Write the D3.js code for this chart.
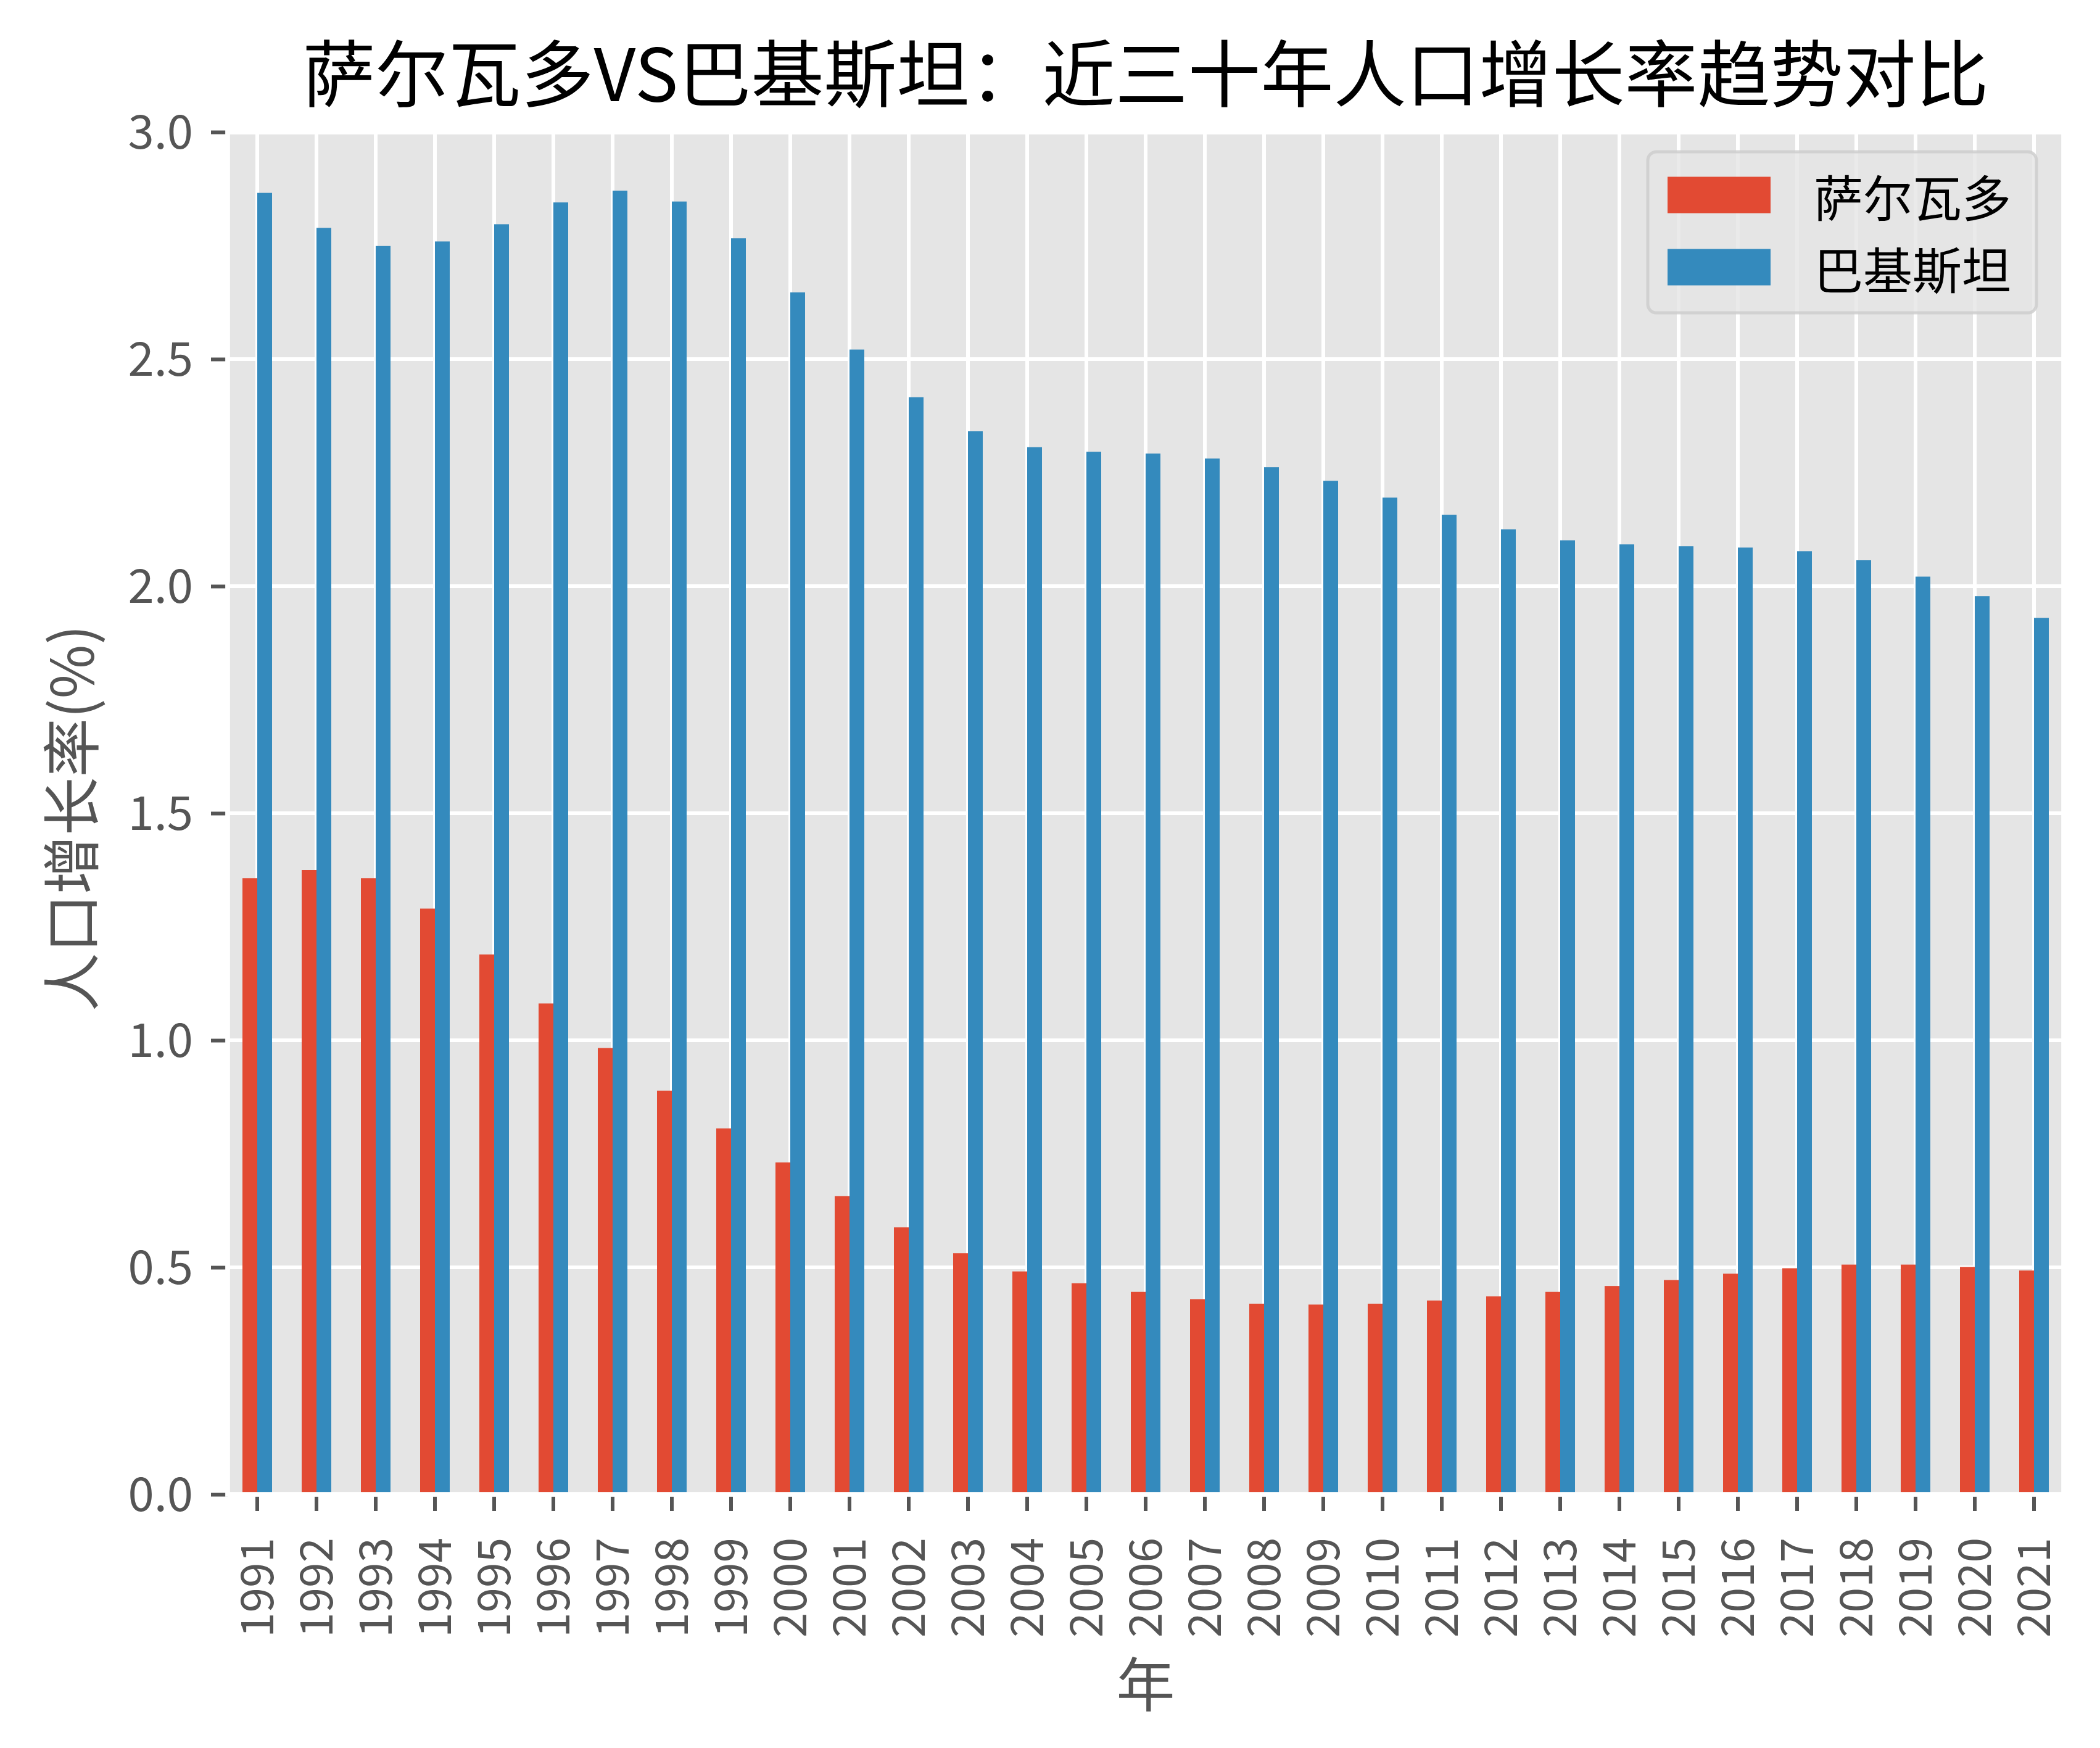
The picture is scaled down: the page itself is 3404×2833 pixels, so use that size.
<!DOCTYPE html>
<html><head><meta charset="utf-8">
<script src="https://cdn.jsdelivr.net/npm/d3@7"></script>
<style>
body{margin:0;background:#fff;}
svg text{font-family:"Noto Sans CJK SC","Noto Sans",sans-serif;}
</style>
</head><body>
<svg id="chart" width="3404" height="2833"></svg>
<script>
const years = ["1991","1992","1993","1994","1995","1996","1997","1998","1999","2000",
  "2001","2002","2003","2004","2005","2006","2007","2008","2009","2010",
  "2011","2012","2013","2014","2015","2016","2017","2018","2019","2020","2021"];
const seriesNames = ["萨尔瓦多", "巴基斯坦"];
const elSalvador = [1.357,1.375,1.357,1.290,1.189,1.081,0.983,0.889,0.806,0.731,
  0.657,0.588,0.531,0.491,0.465,0.446,0.430,0.420,0.418,0.420,
  0.427,0.436,0.446,0.459,0.472,0.486,0.498,0.506,0.506,0.501,0.493];
const pakistan = [2.866,2.789,2.749,2.759,2.797,2.845,2.871,2.847,2.766,2.647,
  2.521,2.416,2.341,2.306,2.296,2.292,2.281,2.262,2.232,2.195,
  2.157,2.125,2.101,2.092,2.088,2.085,2.077,2.057,2.021,1.978,1.930];
const yTicks = [0, 0.5, 1.0, 1.5, 2.0, 2.5, 3.0];
const titleText = "萨尔瓦多VS巴基斯坦：近三十年人口增长率趋势对比";
const xLabelText = "年";
const yLabelText = "人口增长率(%)";
const colors = ["#E24A33", "#348ABD"];

const series = [elSalvador, pakistan];
const svg = d3.select("#chart");
const L = 369, R = 3345, T = 214, B = 2422;

const x = d3.scaleBand().domain(years).range([L, R]).paddingInner(0).paddingOuter(0);
const y = d3.scaleLinear().domain([0, 3.0]).range([B, T]);
const step = x.step();
const barW = step * 0.25;

// background
svg.append("rect").attr("x", L).attr("y", T).attr("width", R - L).attr("height", B - T).attr("fill", "#E5E5E5");

// gridlines
const grid = svg.append("g");
grid.selectAll("line.h").data(yTicks).join("line")
  .attr("x1", L).attr("x2", R).attr("y1", d => y(d)).attr("y2", d => y(d))
  .attr("stroke", "#fff").attr("stroke-width", 6);
grid.selectAll("line.v").data(years).join("line")
  .attr("x1", d => x(d) + step / 2).attr("x2", d => x(d) + step / 2)
  .attr("y1", T).attr("y2", B)
  .attr("stroke", "#fff").attr("stroke-width", 6);

// bars
series.forEach((vals, si) => {
  svg.append("g").selectAll("rect").data(vals).join("rect")
    .attr("x", (d, i) => x(years[i]) + step / 2 - barW + si * barW)
    .attr("width", barW)
    .attr("y", d => y(d))
    .attr("height", d => y(0) - y(d))
    .attr("fill", colors[si]);
});

// axes
const yAxis = svg.append("g").attr("transform", `translate(${L},0)`)
  .call(d3.axisLeft(y).tickValues(yTicks).tickFormat(d3.format(".1f")).tickSize(27).tickPadding(29));
yAxis.select(".domain").remove();
yAxis.selectAll("line").attr("stroke", "#555555").attr("stroke-width", 6);
yAxis.selectAll("text").attr("fill", "#555555").attr("font-size", 76)
  .attr("font-family", "Noto Sans CJK SC").attr("dy", "0.35em");

const xAxis = svg.append("g").attr("transform", `translate(0,${B})`)
  .call(d3.axisBottom(x).tickSize(27));
xAxis.select(".domain").remove();
xAxis.selectAll("line").attr("stroke", "#555555").attr("stroke-width", 6);
xAxis.selectAll("text").attr("fill", "#555555").attr("font-size", 73)
  .attr("font-family", "Noto Sans CJK SC")
  .attr("transform", "rotate(-90)").attr("x", -70).attr("y", 0).attr("dy", "0.36em")
  .attr("text-anchor", "end");

// white axes edge
svg.append("rect").attr("x", L).attr("y", T).attr("width", R - L).attr("height", B - T)
  .attr("fill", "none").attr("stroke", "#fff").attr("stroke-width", 7.7);

// title
svg.append("text").attr("x", (L + R) / 2).attr("y", 112).attr("text-anchor", "middle")
  .attr("dominant-baseline", "central").attr("font-size", 118).attr("fill", "#000")
  .text(titleText);

// axis labels
svg.append("text").attr("x", (L + R) / 2).attr("y", 2724).attr("text-anchor", "middle")
  .attr("dominant-baseline", "central").attr("font-size", 95).attr("fill", "#555555")
  .text(xLabelText);
svg.append("text").attr("transform", `translate(110,${(T + B) / 2 + 8}) rotate(-90)`)
  .attr("text-anchor", "middle").attr("dominant-baseline", "central")
  .attr("font-size", 95).attr("fill", "#555555").text(yLabelText);

// legend
const lg = svg.append("g");
lg.append("rect").attr("x", 2671).attr("y", 246).attr("width", 630).attr("height", 261)
  .attr("rx", 14).attr("fill", "#E5E5E5").attr("fill-opacity", 0.8)
  .attr("stroke", "#CCCCCC").attr("stroke-opacity", 0.8).attr("stroke-width", 5);
seriesNames.forEach((name, i) => {
  const cy = 316 + i * 117;
  lg.append("rect").attr("x", 2703).attr("y", cy - 29.5).attr("width", 167).attr("height", 59)
    .attr("fill", colors[i]);
  lg.append("text").attr("x", 2940).attr("y", cy).attr("dominant-baseline", "central")
    .attr("font-size", 80).attr("fill", "#000").text(name);
});
</script>
</body></html>
